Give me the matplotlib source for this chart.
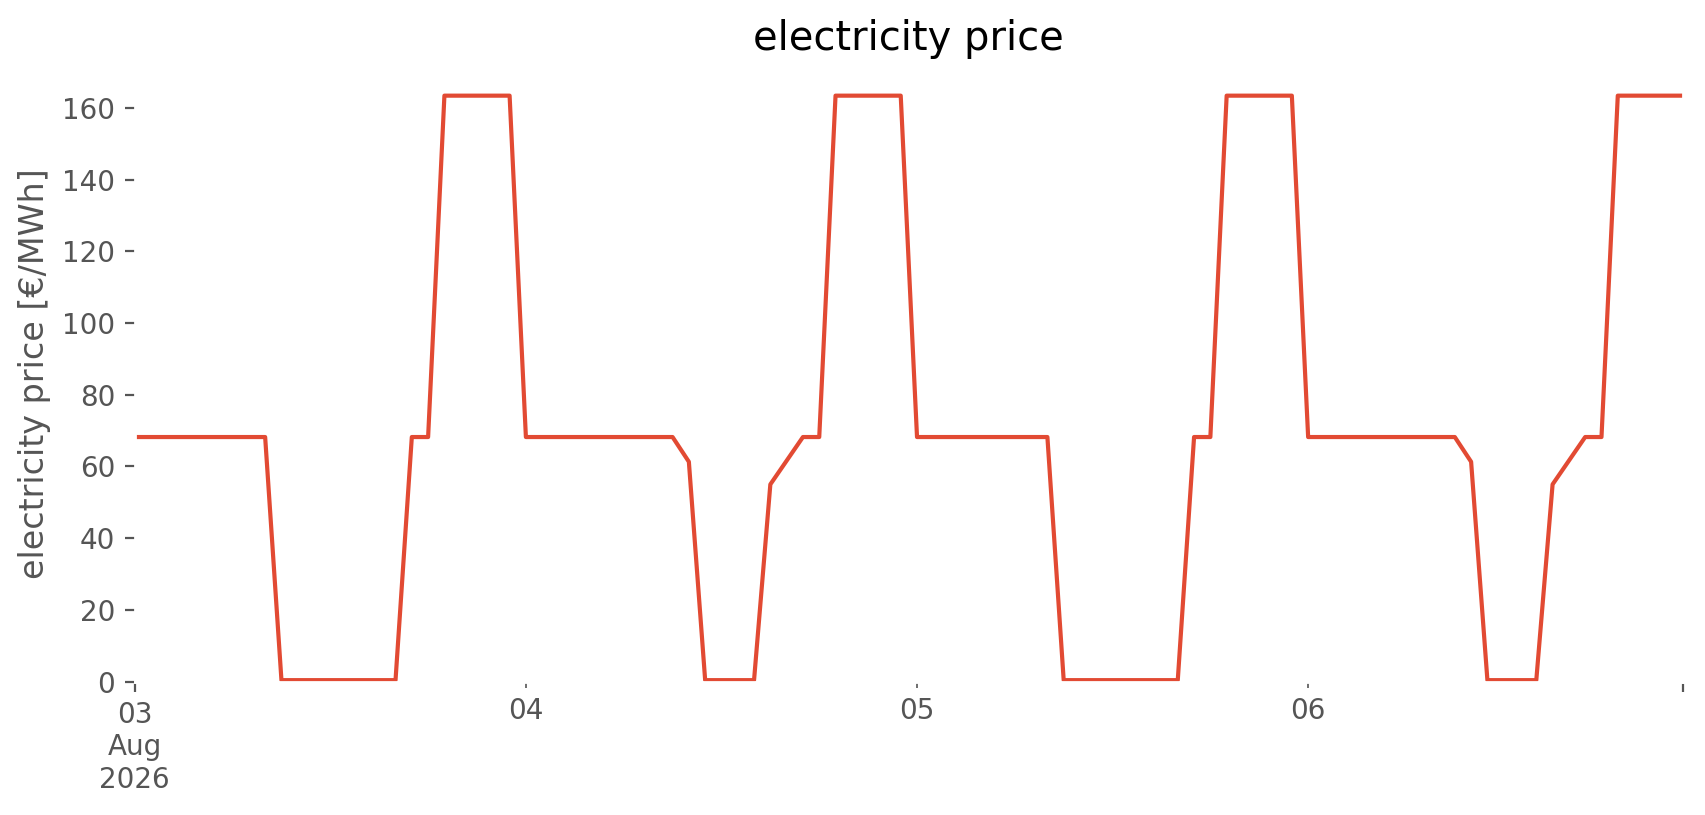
import matplotlib
matplotlib.use("Agg")
import matplotlib.pyplot as plt
import pandas as pd

# hourly electricity price [€/MWh], one list per day
day_03 = [68.2, 68.2, 68.2, 68.2, 68.2, 68.2, 68.2, 68.2, 68.2, 0.4, 0.4, 0.4,
          0.4, 0.4, 0.4, 0.4, 0.4, 68.2, 68.2, 163.4, 163.4, 163.4, 163.4, 163.4]
day_04 = [68.2, 68.2, 68.2, 68.2, 68.2, 68.2, 68.2, 68.2, 68.2, 68.2, 61.3, 0.4,
          0.4, 0.4, 0.4, 55.0, 61.6, 68.2, 68.2, 163.4, 163.4, 163.4, 163.4, 163.4]
day_05 = [68.2, 68.2, 68.2, 68.2, 68.2, 68.2, 68.2, 68.2, 68.2, 0.4, 0.4, 0.4,
          0.4, 0.4, 0.4, 0.4, 0.4, 68.2, 68.2, 163.4, 163.4, 163.4, 163.4, 163.4]
day_06 = [68.2, 68.2, 68.2, 68.2, 68.2, 68.2, 68.2, 68.2, 68.2, 68.2, 61.3, 0.4,
          0.4, 0.4, 0.4, 55.0, 61.6, 68.2, 68.2, 163.4, 163.4, 163.4, 163.4, 163.4]
start = "2026-08-03 00:00"

prices = day_03 + day_04 + day_05 + day_06
idx = pd.date_range(start, periods=len(prices), freq="h")
s = pd.Series(prices, index=idx)

plt.style.use("ggplot")
fig, ax = plt.subplots(figsize=(1706 / 200, 815 / 200), dpi=200)
fig.subplots_adjust(left=0.079, right=0.9865, bottom=0.1637, top=0.9187)

s.plot(ax=ax, color="#E24A33", lw=1.5)
ax.set_facecolor("white")
ax.grid(False)
ax.set_ylim(0, 171.6)
ax.set_xlabel("")
ax.set_ylabel("electricity price [€/MWh]")
ax.set_title("electricity price")

fig.savefig("out.png", dpi=200, facecolor="white")
